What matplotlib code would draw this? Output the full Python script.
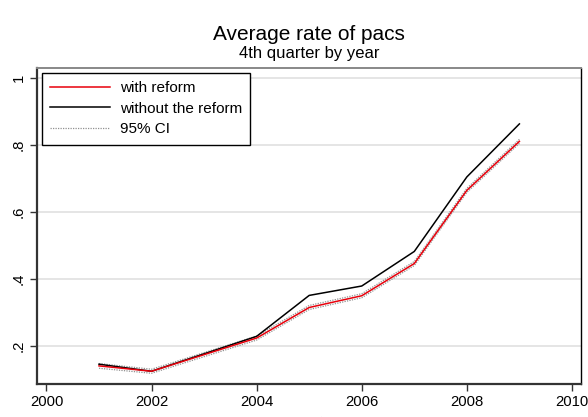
import matplotlib.pyplot as plt

plt.rcParams['font.family'] = ['Liberation Sans', 'DejaVu Sans']

# Average rate of pacs, 4th quarter
years = [2001, 2002, 2004, 2005, 2006, 2007, 2008, 2009]
with_reform = [0.141, 0.125, 0.224, 0.315, 0.350, 0.446, 0.664, 0.810]
without_reform = [0.146, 0.125, 0.229, 0.351, 0.379, 0.482, 0.704, 0.862]
ci_low = [0.134, 0.119, 0.218, 0.309, 0.344, 0.440, 0.658, 0.804]
ci_high = [0.148, 0.131, 0.230, 0.321, 0.356, 0.452, 0.670, 0.816]

xticks = [2000, 2002, 2004, 2006, 2008, 2010]
yticks = [0.2, 0.4, 0.6, 0.8, 1.0]
ytick_labels = ['.2', '.4', '.6', '.8', '1']

fig = plt.figure(figsize=(5.88, 4.17), dpi=100)
ax = fig.add_axes([0.0629, 0.0791, 0.925, 0.759])

for v in yticks:
    ax.axhline(v, color='#e3e3e3', lw=1.3, zorder=0)

ax.plot(years, ci_low, color='#909090', lw=0.9, ls=(0, (1, 1)), zorder=2)
ax.plot(years, ci_high, color='#909090', lw=0.9, ls=(0, (1, 1)), zorder=2)
ax.plot(years, without_reform, color='black', lw=1.1, zorder=3)
ax.plot(years, with_reform, color='#e8000b', lw=1.1, zorder=4)

# legend handles in the same order as the Stata output
h1, = ax.plot([], [], color='#e8000b', lw=1.1)
h2, = ax.plot([], [], color='black', lw=1.1)
h3, = ax.plot([], [], color='#909090', lw=0.9, ls=(0, (1, 1)))
leg = ax.legend([h1, h2, h3], ['with reform', 'without the reform', '95% CI'],
                loc='upper left', bbox_to_anchor=(0.0086, 0.983),
                fontsize=11, fancybox=False, framealpha=1, borderpad=0.55,
                handlelength=3.9, handletextpad=0.65, labelspacing=0.42,
                borderaxespad=0)
leg.get_frame().set_edgecolor('black')
leg.get_frame().set_linewidth(1.0)

ax.set_xlim(1999.82, 2010.17)
ax.set_ylim(0.087, 1.03)
ax.set_xticks(xticks)
ax.set_yticks(yticks)
ax.set_yticklabels(ytick_labels, rotation=90, va='center')
ax.tick_params(axis='both', labelsize=10.7, length=5, width=1, color='#333333', pad=3)

for side in ['left', 'bottom']:
    ax.spines[side].set_color('#333333')
    ax.spines[side].set_linewidth(1.6)
ax.spines['right'].set_color('black')
ax.spines['right'].set_linewidth(1.0)
ax.spines['top'].set_color('#888888')
ax.spines['top'].set_linewidth(1.4)

ax.set_xlabel('year', fontsize=10.7, labelpad=3.5)
fig.text(0.5255, 0.918, 'Average rate of pacs', ha='center', va='center', fontsize=15)
fig.text(0.5255, 0.871, '4th quarter by year', ha='center', va='center', fontsize=12)

fig.savefig('out.png', dpi=100)
